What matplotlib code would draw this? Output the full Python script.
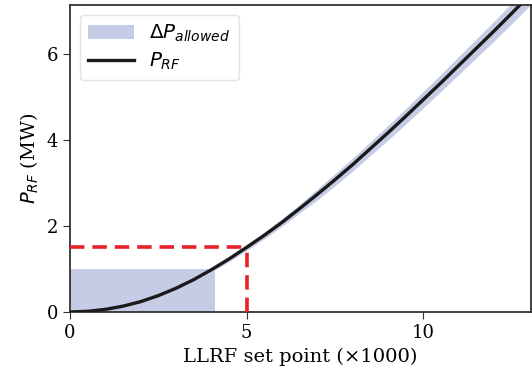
import matplotlib
matplotlib.use("Agg")
import matplotlib.pyplot as plt
import numpy as np

# LLRF set point (x1000) and RF power (MW)
setpoint = [0, 0.5, 1, 1.5, 2, 2.5, 3, 3.5, 4, 4.5, 5, 5.5, 6, 6.5, 7, 7.5,
            8, 8.5, 9, 9.5, 10, 10.5, 11, 11.5, 12, 12.5, 13]
power = [0, 0.015, 0.06, 0.135, 0.24, 0.38, 0.55, 0.75, 0.98, 1.23, 1.5, 1.78,
         2.08, 2.4, 2.73, 3.07, 3.42, 3.79, 4.16, 4.54, 4.93, 5.32, 5.72, 6.12,
         6.52, 6.93, 7.35]
# allowed band half-width (MW)
band_half = [0, 0.002, 0.004, 0.007, 0.012, 0.02, 0.03, 0.04, 0.05, 0.06,
             0.07, 0.08, 0.09, 0.10, 0.13, 0.14, 0.15, 0.16, 0.17, 0.18,
             0.19, 0.20, 0.21, 0.22, 0.23, 0.24, 0.25]

# allowed region at low set point
box_x = [0, 4.1]
box_y = 1.0
# operating point
op_x = 5
op_y = 1.5

plt.rcParams['font.family'] = 'DejaVu Serif'
plt.rcParams['mathtext.fontset'] = 'dejavusans'

fig = plt.figure(figsize=(5.32, 3.8), dpi=100)
ax = fig.add_axes([0.1316, 0.179, 0.8664, 0.808])

band_color = '#c6cbe6'
p = np.array(power)
h = np.array(band_half)

ax.fill_between(setpoint, p - h, p + h, color=band_color, lw=0,
                label=r'$\Delta P_{allowed}$')
ax.fill_between(box_x, [0, 0], [box_y, box_y], color=band_color, lw=0)
ax.plot(setpoint, power, color='#1a1a1a', lw=2.4, label=r'$P_{RF}$', zorder=4)

red = '#e8202a'
ax.plot([0, op_x], [op_y, op_y], color=red, lw=2.6, dashes=(4, 2.2), zorder=5)
ax.plot([op_x, op_x], [0, op_y], color=red, lw=2.6, dashes=(4, 2.2), zorder=5)

ax.set_xlim(0, 13.05)
ax.set_ylim(0, 7.13)
ax.set_xticks([0, 5, 10])
ax.set_yticks([0, 2, 4, 6])
ax.tick_params(labelsize=13, direction='out', length=5, color='#333333')
for s in ax.spines.values():
    s.set_color('#333333')
    s.set_linewidth(1.3)

ax.set_xlabel('LLRF set point (×1000)', fontsize=14)
ax.set_ylabel(r'$P_{RF}$ (MW)', fontsize=14)

leg = ax.legend(loc='upper left', fontsize=14.3, frameon=True, fancybox=True,
                edgecolor='#dddddd', handlelength=2.3, labelspacing=0.35,
                borderaxespad=0.5)

fig.savefig('out.png', dpi=100)
